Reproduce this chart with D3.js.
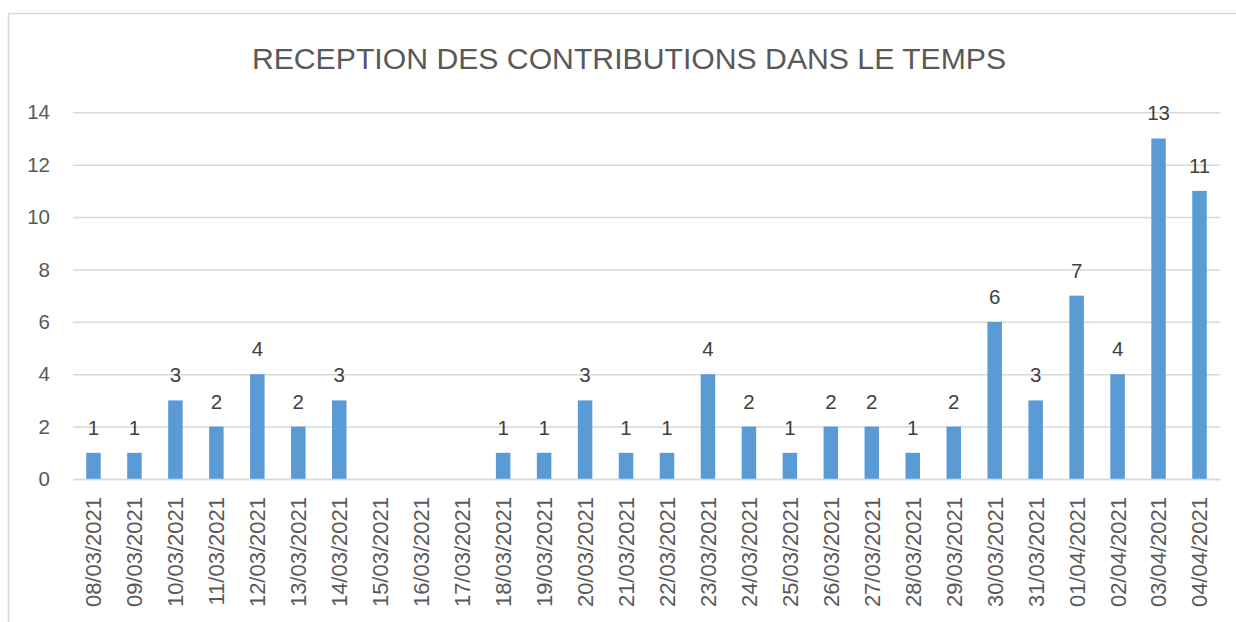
<!DOCTYPE html>
<html><head><meta charset="utf-8">
<script src="https://cdn.jsdelivr.net/npm/d3@7/dist/d3.min.js"></script>
<style>html,body{margin:0;padding:0;background:#fff;}svg{display:block;}</style>
</head><body>
<svg id="chart" width="1236" height="622"></svg>
<script>
const categories = ["08/03/2021","09/03/2021","10/03/2021","11/03/2021","12/03/2021","13/03/2021","14/03/2021","15/03/2021","16/03/2021","17/03/2021","18/03/2021","19/03/2021","20/03/2021","21/03/2021","22/03/2021","23/03/2021","24/03/2021","25/03/2021","26/03/2021","27/03/2021","28/03/2021","29/03/2021","30/03/2021","31/03/2021","01/04/2021","02/04/2021","03/04/2021","04/04/2021"];
const values = [1,1,3,2,4,2,3,null,null,null,1,1,3,1,1,4,2,1,2,2,1,2,6,3,7,4,13,11];
const yTicks = [0,2,4,6,8,10,12,14];
const title = "RECEPTION DES CONTRIBUTIONS DANS LE TEMPS";

const svg = d3.select("#chart");
const font = "'Liberation Sans', Arial, sans-serif";
const mLeft = 73, mRight = 1220, mTop = 112.3, mBottom = 479;

svg.append("rect").attr("x",8.5).attr("y",13.5).attr("width",1250).attr("height",700)
  .attr("fill","#fff").attr("stroke","#D9D9D9").attr("stroke-width",1.5);

const x = d3.scaleBand().domain(categories).range([mLeft,mRight]).paddingInner(0.646).paddingOuter(0.323);
const y = d3.scaleLinear().domain([0,14]).range([mBottom,mTop]);

svg.append("text").attr("x",629).attr("y",69).attr("text-anchor","middle")
  .attr("font-family",font).attr("font-size",30.2).attr("fill","#595959").text(title);

// gridlines
const yAxis = d3.axisLeft(y).tickValues(yTicks).tickSize(-(mRight-mLeft)).tickPadding(23);
const gy = svg.append("g").attr("transform",`translate(${mLeft},0)`).call(yAxis);
gy.select(".domain").remove();
gy.selectAll(".tick line").attr("stroke","#D9D9D9").attr("stroke-width",1.5);
gy.selectAll(".tick text").attr("font-family",font).attr("font-size",20.5).attr("fill","#595959");

// bars
const data = categories.map((c,i)=>({c, v: values[i]})).filter(d=>d.v!=null);
svg.append("g").selectAll("rect").data(data).join("rect")
  .attr("x",d=>x(d.c)).attr("width",x.bandwidth())
  .attr("y",d=>y(d.v)).attr("height",d=>y(0)-y(d.v)).attr("fill","#5B9BD5");

// zero axis line
const xAxis = d3.axisBottom(x).tickSize(0).tickPadding(0);
const gx = svg.append("g").attr("transform",`translate(0,${mBottom})`).call(xAxis);
gx.select(".domain").attr("stroke","#D9D9D9").attr("stroke-width",1.5);
gx.selectAll(".tick text").attr("font-family",font).attr("font-size",22).attr("fill","#595959")
  .attr("text-anchor","end").attr("transform","rotate(-90)")
  .attr("x",-18).attr("y",0).attr("dy","0.36em");

// data labels
svg.append("g").selectAll("text").data(data).join("text")
  .attr("x",d=>x(d.c)+x.bandwidth()/2).attr("y",d=>y(d.v)-18)
  .attr("text-anchor","middle").attr("font-family",font).attr("font-size",20.5)
  .attr("fill","#404040").text(d=>d.v);
</script>
</body></html>
